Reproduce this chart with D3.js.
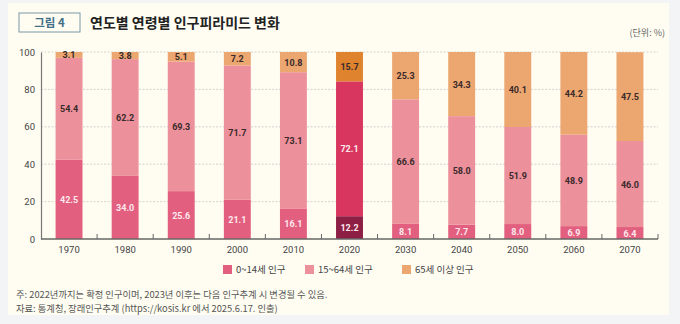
<!DOCTYPE html>
<html><head><meta charset="utf-8">
<script src="https://cdn.jsdelivr.net/npm/d3@7"></script>
<style>
html,body{margin:0;padding:0;background:#f3f4f6;}
svg{display:block;}
text{font-family:"Noto Sans CJK KR","Noto Sans",sans-serif;}
.num{font-family:Roboto,"Noto Sans",sans-serif;}
</style></head>
<body>
<svg id="chart" width="680" height="324"></svg>
<script>
const years = ["1970","1980","1990","2000","2010","2020","2030","2040","2050","2060","2070"];
const age0_14 = [42.5,34.0,25.6,21.1,16.1,12.2,8.1,7.7,8.0,6.9,6.4];
const age15_64 = [54.4,62.2,69.3,71.7,73.1,72.1,66.6,58.0,51.9,48.9,46.0];
const age65 = [3.1,3.8,5.1,7.2,10.8,15.7,25.3,34.3,40.1,44.2,47.5];
const seriesNames = ["0~14세 인구","15~64세 인구","65세 이상 인구"];
const yTicks = [0,20,40,60,80,100];
const highlightYear = "2020";

const colors = ["#e35f7f","#ec909c","#eca670"];
const hiColors = ["#8e1f44","#d8365f","#e0832f"];
const labelColors = ["#fde8ee","#3a2a2a","#3a2a2a"];

const svg = d3.select("#chart");
svg.append("rect").attr("x",8).attr("y",3).attr("width",661).attr("height",312).attr("fill","#fffdf2");

// title
svg.append("rect").attr("x",19).attr("y",13).attr("width",61).attr("height",19)
  .attr("fill","#fffdf2").attr("stroke","#7c98a6").attr("stroke-width",1);
svg.append("text").attr("x",49.5).attr("y",27).attr("text-anchor","middle")
  .attr("font-size",11.5).attr("font-weight",700).attr("fill","#3f7088").text("그림 4");
svg.append("text").attr("x",90).attr("y",28).attr("font-size",14).attr("font-weight",700)
  .attr("fill","#222").text("연도별 연령별 인구피라미드 변화");
svg.append("text").attr("x",665).attr("y",36).attr("text-anchor","end").attr("font-size",9)
  .attr("fill","#666").text("(단위: %)");

const x0 = 41, x1 = 658, yTop = 52, yBot = 239;
const x = d3.scaleBand().domain(years).range([x0,x1]).paddingInner(0.52).paddingOuter(0.26);
const y = d3.scaleLinear().domain([0,100]).range([yBot,yTop]);

// grid
svg.append("g").selectAll("line").data(yTicks.filter(d=>d>0)).join("line")
  .attr("x1",x0).attr("x2",x1).attr("y1",d=>y(d)).attr("y2",d=>y(d))
  .attr("stroke","#c8c8c8").attr("stroke-width",0.8).attr("stroke-dasharray","2,1.5");

// y axis
const yAxis = d3.axisLeft(y).tickValues(yTicks).tickSize(0).tickPadding(6);
const gy = svg.append("g").attr("transform",`translate(${x0},0)`).call(yAxis);
gy.select(".domain").attr("stroke","#777").attr("stroke-width",1.2);
gy.selectAll("text").attr("font-size",9.5).attr("fill","#444").attr("class","num");

// stacked data
const rows = years.map((yr,i)=>({year:yr, a:age0_14[i], b:age15_64[i], c:age65[i]}));
const stack = d3.stack().keys(["a","b","c"])(rows);

stack.forEach((layer,si)=>{
  const g = svg.append("g");
  g.selectAll("rect").data(layer).join("rect")
    .attr("x",d=>x(d.data.year)).attr("width",x.bandwidth())
    .attr("y",d=>y(d[1])).attr("height",d=>y(d[0])-y(d[1]))
    .attr("fill",d=>d.data.year===highlightYear?hiColors[si]:colors[si]);
  g.selectAll("text").data(layer).join("text").attr("class","num")
    .attr("x",d=>x(d.data.year)+x.bandwidth()/2)
    .attr("y",d=>y((d[0]+d[1])/2)+3.5)
    .attr("text-anchor","middle").attr("font-size",9).attr("font-weight",700)
    .attr("fill",d=>(d.data.year===highlightYear && si<2)?"#fde8ee":labelColors[si])
    .text(d=>(d[1]-d[0]).toFixed(1));
});

// x axis
const gx = svg.append("g").attr("transform",`translate(0,${yBot})`);
gx.append("line").attr("x1",x0).attr("x2",x1).attr("stroke","#666").attr("stroke-width",1.5);
const step = x.step();
gx.selectAll("line.tk").data(years).join("line").attr("class","tk")
  .attr("x1",d=>x(d)+x.bandwidth()/2+step/2).attr("x2",d=>x(d)+x.bandwidth()/2+step/2)
  .attr("y1",0).attr("y2",-5).attr("stroke","#666").attr("stroke-width",1);
gx.selectAll("text").data(years).join("text").attr("class","num")
  .attr("x",d=>x(d)+x.bandwidth()/2).attr("y",13.5).attr("text-anchor","middle")
  .attr("font-size",9.5).attr("fill","#444").text(d=>d);

// legend
const legX = [223,305,402];
const lg = svg.append("g");
seriesNames.forEach((n,i)=>{
  lg.append("rect").attr("x",legX[i]).attr("y",265).attr("width",9).attr("height",9).attr("fill",colors[i]);
  lg.append("text").attr("x",legX[i]+13).attr("y",273).attr("font-size",9.5).attr("fill","#444").text(n);
});

// notes
svg.append("text").attr("x",16).attr("y",298).attr("font-size",9.3).attr("fill","#555")
  .text("주: 2022년까지는 확정 인구이며, 2023년 이후는 다음 인구추계 시 변경될 수 있음.");
svg.append("text").attr("x",16).attr("y",312).attr("font-size",9.3).attr("fill","#555")
  .text("자료: 통계청, 장래인구추계 (https://kosis.kr 에서 2025.6.17. 인출)");
</script>
</body></html>
